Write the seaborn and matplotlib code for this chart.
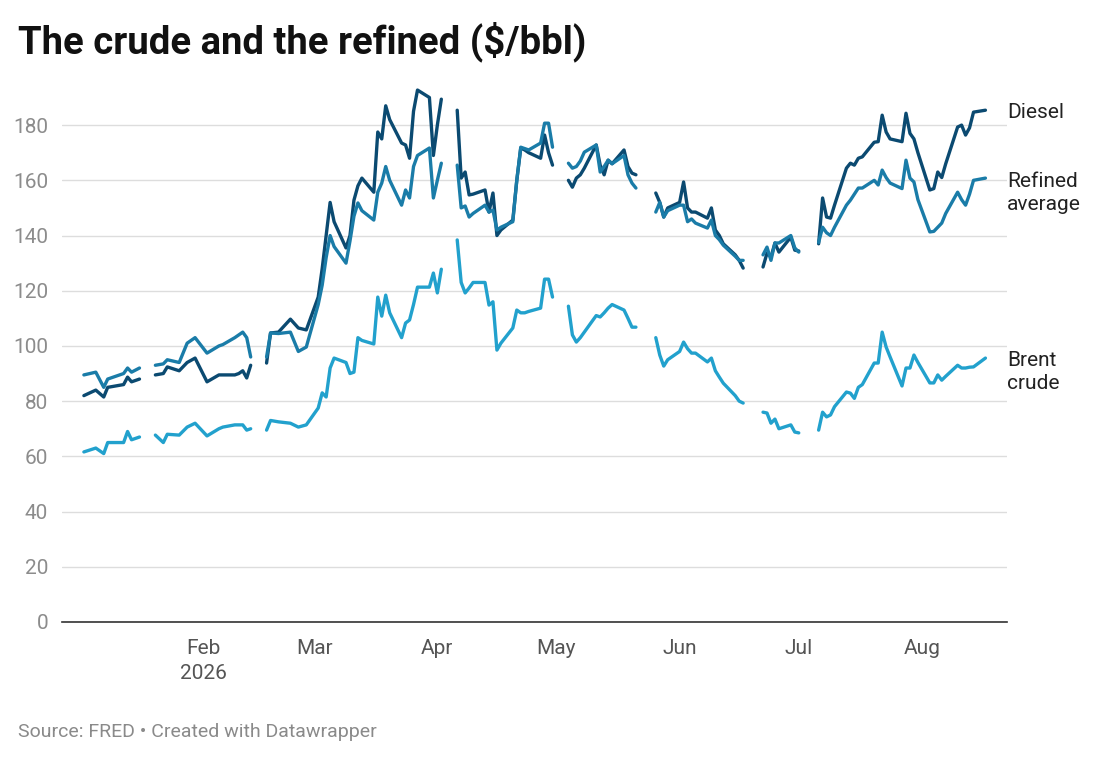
import numpy as np
import pandas as pd
import matplotlib
matplotlib.use("Agg")
import matplotlib.pyplot as plt
import seaborn as sns

nan = np.nan

# trading days; NaN marks a break in the lines
dates = [
    "2026-01-02", "2026-01-05", "2026-01-07", "2026-01-08", "2026-01-12", "2026-01-13", "2026-01-14", "2026-01-16",
    "2026-01-19",
    "2026-01-20", "2026-01-22", "2026-01-23", "2026-01-26", "2026-01-28", "2026-01-30", "2026-02-02", "2026-02-05",
    "2026-02-06", "2026-02-09", "2026-02-10", "2026-02-11", "2026-02-12", "2026-02-13",
    "2026-02-16",
    "2026-02-17", "2026-02-18", "2026-02-20", "2026-02-23", "2026-02-25", "2026-02-27", "2026-03-02", "2026-03-03",
    "2026-03-04", "2026-03-05", "2026-03-06", "2026-03-09", "2026-03-10", "2026-03-11", "2026-03-12", "2026-03-13",
    "2026-03-16", "2026-03-17", "2026-03-18", "2026-03-19", "2026-03-20", "2026-03-23", "2026-03-24", "2026-03-25",
    "2026-03-26", "2026-03-27", "2026-03-30", "2026-03-31", "2026-04-01", "2026-04-02",
    "2026-04-03",
    "2026-04-06", "2026-04-07", "2026-04-08", "2026-04-09", "2026-04-10", "2026-04-13", "2026-04-14", "2026-04-15",
    "2026-04-16", "2026-04-17", "2026-04-20", "2026-04-21", "2026-04-22", "2026-04-23", "2026-04-24", "2026-04-27",
    "2026-04-28", "2026-04-29", "2026-04-30",
    "2026-05-01",
    "2026-05-04", "2026-05-05", "2026-05-06", "2026-05-07", "2026-05-08", "2026-05-11", "2026-05-12", "2026-05-13",
    "2026-05-14", "2026-05-15", "2026-05-18", "2026-05-19", "2026-05-20", "2026-05-21",
    "2026-05-25",
    "2026-05-26", "2026-05-27", "2026-05-28", "2026-05-29", "2026-06-01", "2026-06-02", "2026-06-03", "2026-06-04",
    "2026-06-05", "2026-06-08", "2026-06-09", "2026-06-10", "2026-06-11", "2026-06-12", "2026-06-15", "2026-06-16",
    "2026-06-17",
    "2026-06-19",
    "2026-06-22", "2026-06-23", "2026-06-24", "2026-06-25", "2026-06-26", "2026-06-29", "2026-06-30", "2026-07-01",
    "2026-07-03",
    "2026-07-06", "2026-07-07", "2026-07-08", "2026-07-09", "2026-07-10", "2026-07-13", "2026-07-14", "2026-07-15",
    "2026-07-16", "2026-07-17", "2026-07-20", "2026-07-21", "2026-07-22", "2026-07-23", "2026-07-24", "2026-07-27",
    "2026-07-28", "2026-07-29", "2026-07-30", "2026-07-31", "2026-08-03", "2026-08-04", "2026-08-05", "2026-08-06",
    "2026-08-07", "2026-08-10", "2026-08-11", "2026-08-12", "2026-08-13", "2026-08-14", "2026-08-17",
]

diesel = [
    82, 84, 81.5, 85, 86, 88.7, 87, 88,
    nan,
    89.5, 90, 92.4, 91, 94, 95.6, 87, 89.5, 89.5, 89.5, 90, 91, 88.4, 93,
    nan,
    93.8, 104.7, 105, 109.7, 106.5, 105.8, 117.7, 128, 140, 152, 145, 135.5, 140, 152.8, 158, 160.8,
    155.7, 177.5, 175, 187, 182, 173.5, 172.8, 168, 185, 192.7, 190, 169, 180, 189.4,
    nan,
    185.4, 160.8, 163, 154.7, 155, 156.5, 148.5, 155.4, 140, 142, 145.6, 160, 171.7, 171, 170, 168,
    176.4, 170, 165.5,
    nan,
    160, 157.5, 160.8, 162, 164.4, 172.8, 165.5, 162, 167.3, 166, 171, 165, 162.6, 162,
    nan,
    155.4, 152, 146.7, 150, 152, 159.4, 150, 148.5, 148.5, 146.3, 150, 142, 140, 137, 133, 131, 128.2,
    nan,
    128.6, 133.6, 132.2, 137.3, 134, 139.4, 134.7, 134.4,
    nan,
    137, 153.6, 146.7, 146.3, 151, 164.4, 166.2, 165.5, 168, 168.5, 173.8, 174, 183.6, 177.5, 175, 174,
    184.3, 177, 175, 170, 156.5, 157, 163, 161, 166, 179.3, 180, 176.4, 179, 184.7, 185.4,
]

refined = [
    89.5, 90.5, 85, 88, 90, 92, 90.5, 92,
    nan,
    93, 93.5, 95, 94, 101, 103, 97.4, 100, 100.5, 103, 104, 105, 103, 96,
    nan,
    96, 104.7, 104.5, 105, 98, 99.6, 115, 122, 132, 140, 136, 130, 138, 147, 151.8, 149,
    145.6, 155.7, 159, 165, 160, 151, 156.5, 153.6, 165, 169, 171.7, 153.6, 160, 166.2,
    nan,
    165.5, 150, 150.7, 146.7, 148, 151, 148.5, 149.2, 142, 143, 145, 160, 172, 171.5, 171, 173.5,
    180.7, 180.7, 172,
    nan,
    166.2, 164.4, 165, 167, 170.2, 172.8, 163, 165, 167.3, 166, 169, 162, 159, 157.2,
    nan,
    148.5, 152, 146.7, 149, 151, 151, 145, 146, 144.5, 142.7, 145.6, 140, 138.5, 136.5, 132.5, 131, 131,
    nan,
    133, 135.8, 131, 137.3, 137.3, 140, 135.5, 134,
    nan,
    137.5, 143, 141, 140, 143, 151, 152.8, 155, 157.2, 157.2, 160, 158.3, 163.7, 161, 159, 157,
    167.3, 160.8, 159.4, 153, 141.3, 141.5, 143, 144.5, 148, 155.7, 153, 151, 155, 160, 160.8,
]

brent = [
    61.6, 63, 61, 65, 65, 69, 66, 67,
    nan,
    67.7, 65, 68, 67.7, 70.6, 72, 67.4, 70, 70.6, 71.4, 71.4, 71.4, 69.5, 70,
    nan,
    69.5, 73, 72.5, 72, 70.6, 71.4, 77.5, 83, 81.5, 92, 95.6, 94, 90, 90.5, 103, 102,
    100.7, 117.7, 110.8, 118.4, 112, 103, 108.3, 109.4, 115, 121.3, 121.3, 126.4, 119.2, 127.8,
    nan,
    138.4, 123, 119.2, 121, 123, 123, 114.8, 116, 98.5, 101, 106.5, 113, 112, 112, 112.5, 113.7,
    124.2, 124.2, 117.7,
    nan,
    114.4, 104, 101.4, 103, 105, 111, 110.5, 112, 113.7, 115, 113, 110, 106.8, 106.8,
    nan,
    103, 96.7, 92.7, 95, 98, 101.4, 99, 97.4, 97.4, 94.2, 95.6, 91, 88.7, 86.5, 82, 80, 79.3,
    nan,
    76, 75.7, 72, 73.5, 70, 71.4, 68.8, 68.5,
    nan,
    69.5, 76, 74.3, 75, 78, 83.3, 82.9, 81, 85, 86, 93.8, 93.8, 105, 99.6, 96, 85.5,
    92, 92, 96.7, 94, 86.6, 86.6, 89.5, 87.6, 89, 93, 92, 92, 92.3, 92.4, 95.6,
]

series_names = ["Diesel", "Refined average", "Brent crude"]
end_labels = ["Diesel", "Refined\naverage", "Brent\ncrude"]
colors = ["#0b4a71", "#1a7ca8", "#22a1cd"]

wide = pd.DataFrame({"date": pd.to_datetime(dates), "Diesel": diesel,
                     "Refined average": refined, "Brent crude": brent})
# a new segment starts after every missing day so the lines break there
wide["seg"] = wide["Diesel"].isna().cumsum()
df = wide.melt(id_vars=["date", "seg"], value_vars=series_names,
               var_name="series", value_name="price").dropna()

sns.set_style("white")
plt.rcParams["font.family"] = ["Roboto", "DejaVu Sans"]

fig = plt.figure(figsize=(11, 7.61), dpi=100)
ax = fig.add_axes([0.0564, 0.1827, 0.859, 0.7073])

sns.lineplot(data=df, x="date", y="price", hue="series", units="seg", estimator=None,
             hue_order=series_names, palette=colors, linewidth=2.4, legend=False, ax=ax)

ax.set_ylim(0, 195)
ax.set_xlim(pd.Timestamp("2025-12-27 12:00"), pd.Timestamp("2026-08-22 10:00"))
ax.set_yticks(range(0, 181, 20))
ax.yaxis.grid(True, color="#dddddd", linewidth=1)
ax.set_axisbelow(True)
for side in ["top", "right", "left"]:
    ax.spines[side].set_visible(False)
ax.spines["bottom"].set_color("#333333")
ax.spines["bottom"].set_linewidth(1.2)
ax.tick_params(axis="y", length=0, pad=10, labelsize=15, labelcolor="#8c8c8c")

months = pd.date_range("2026-02-01", "2026-08-01", freq="MS")
ax.set_xticks(months)
ax.set_xticklabels(["Feb\n2026"] + [m.strftime("%b") for m in months[1:]])
ax.tick_params(axis="x", length=0, pad=12, labelsize=15, labelcolor="#555555")
for lbl in ax.get_xticklabels():
    lbl.set_linespacing(1.4)
    lbl.set_verticalalignment("top")
ax.set_xlabel("")
ax.set_ylabel("")

# labels at the end of each line
label_y = [184.6, 155.5, 90.5]
for name, lab, yv in zip(series_names, end_labels, label_y):
    ax.text(1.0, yv, lab, transform=ax.get_yaxis_transform(), ha="left", va="center",
            fontsize=15, color="#222222", linespacing=1.25)

fig.text(0.016, 0.945, "The crude and the refined ($/bbl)", fontsize=27.5, fontweight="bold",
         color="#111111", va="center")
fig.text(0.016, 0.038, "Source: FRED \u2022 Created with Datawrapper", fontsize=14,
         color="#8a8a8a", va="center")

fig.savefig("out.png", dpi=100)
